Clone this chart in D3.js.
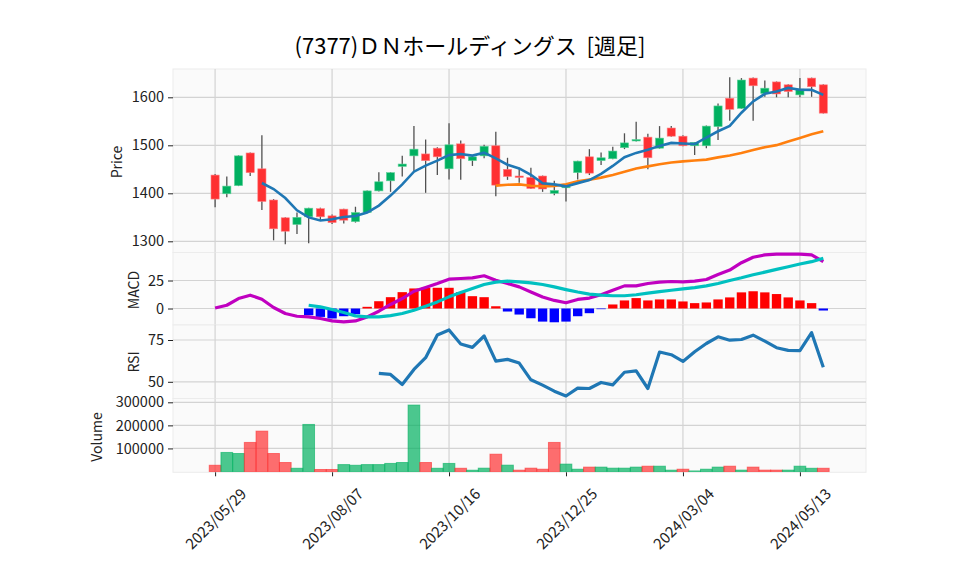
<!DOCTYPE html>
<html><head><meta charset="utf-8">
<script src="https://cdn.jsdelivr.net/npm/d3@7"></script>
<style>body{margin:0;background:#fff}svg{display:block}</style>
</head><body><svg id="c" width="958" height="575"></svg>
<script>
// ---- data (weekly candles, index 0 = 2023/05/29) ----
const opens  = [1438,1399,1416,1484,1451,1386,1349,1335,1351,1368,1353,1367,1341,1360,1405,1426,1456,1478,1482,1494,1451,1503,1468,1478,1499,1450,1436,1433,1436,1400,1412,1443,1476,1468,1472,1495,1509,1517,1494,1536,1519,1499,1499,1539,1598,1577,1640,1608,1632,1626,1605,1640,1626];
const highs  = [1440,1435,1479,1485,1521,1388,1350,1360,1370,1370,1356,1368,1372,1406,1444,1444,1478,1540,1512,1496,1546,1510,1477,1501,1528,1474,1453,1453,1437,1426,1416,1468,1492,1485,1497,1525,1549,1524,1540,1540,1521,1507,1541,1587,1642,1640,1641,1635,1633,1627,1640,1641,1627];
const lows   = [1371,1392,1415,1436,1365,1302,1294,1315,1296,1344,1336,1337,1339,1359,1404,1403,1435,1445,1401,1438,1429,1428,1457,1473,1394,1428,1422,1409,1403,1396,1383,1429,1438,1459,1471,1492,1508,1450,1493,1518,1498,1480,1494,1511,1551,1576,1551,1601,1600,1600,1600,1601,1566];
const closes = [1388,1415,1478,1443,1383,1326,1321,1350,1369,1351,1339,1344,1360,1405,1424,1443,1461,1492,1468,1476,1501,1472,1476,1498,1417,1435,1433,1410,1409,1406,1414,1467,1442,1474,1488,1505,1512,1474,1515,1519,1499,1506,1540,1582,1575,1636,1624,1619,1607,1612,1617,1622,1567];
const volumes = [27000,82600,78000,126000,175000,78000,39000,14000,204000,8700,8700,30000,27000,30000,30000,35000,39000,288000,39000,14000,35000,14000,5600,14500,75000,27500,5800,14500,10000,126000,32000,10000,19000,19000,14500,14500,19000,23000,23000,5800,10000,2500,10000,19000,23000,6000,19000,6000,6000,6000,23000,14000,14000];
const macdLine = [0.5,2.9,8.9,11.9,8.3,0.9,-4.5,-6.9,-7.5,-8.9,-11.1,-12,-11.1,-7.5,-2.4,3.6,8.9,15.4,18.8,22.3,26.2,26.8,27.3,29.2,25.3,22.3,19.3,14.7,10.2,7.2,5.1,8.1,9.3,12.3,16.3,20.2,20.2,22.3,23.5,24.1,23.8,24.4,25.9,30.4,34.3,40.9,45.8,47.9,48.5,48.5,48.5,47.9,41.8];
const signalLine = [null,null,null,null,null,null,null,null,2.9,1.4,-0.9,-3.6,-6.6,-7.5,-7.5,-6.3,-4.5,-1.5,2.1,5.9,10.4,14.3,17.9,21.4,23.5,24.4,23.8,22.9,21.4,19.3,16.9,14.7,12.9,12.0,11.4,11.4,12.3,13.8,15.1,16.3,17.5,18.7,20.2,22.3,25,27.4,30.1,32.5,34.9,37.3,39.7,41.8,44.8];
const macdHist = [null,null,null,null,null,null,null,null,-6.0,-7.5,-8.9,-6.9,-5.1,1.5,6.5,10.1,14.6,17.9,18.5,18.5,18.5,14.6,11,10.1,2,-2.7,-5.4,-8.7,-11.7,-12.3,-11.7,-6.9,-4.2,-0.6,3.6,7.2,9.3,7.2,8.1,8.1,6.3,4.8,5.4,8.1,9.9,14.4,15.4,14.4,12.9,9.9,7.2,4.8,-1.8];
const rsiLine = [null,null,null,null,null,null,null,null,null,null,null,null,null,null,55.0,54.4,48.4,57.4,64.4,78.0,81.0,72.6,70.6,77.4,62.4,63.4,61.2,51.2,48.0,44.4,41.5,46.2,46.0,49.6,48.2,55.7,56.5,46.0,67.8,66.2,62.2,68.0,72.9,76.9,74.9,75.3,77.9,74.3,70.4,68.8,68.6,79.4,58.7];
const xTickIdx = [0,10,20,30,40,50];
const xTickLabels = ["2023/05/29","2023/08/07","2023/10/16","2023/12/25","2024/03/04","2024/05/13"];
const priceTicks = [1300,1400,1500,1600];
const macdTicks = [0,25];
const rsiTicks = [50,75];
const volTicks = [100000,200000,300000];
const titleText = "(7377)ＤＮホールディングス  [週足]";

// ---- layout ----
const FONT = "'Noto Sans CJK JP','Noto Sans',sans-serif";
const svg = d3.select("#c");
const L = 173, R = 866;
const x = d3.scaleLinear().domain([-3.6, 55.65]).range([L, R]);
const step = x(1) - x(0);
const idx = d3.range(closes.length);

const panels = [
  {name:"Price", top:69, bot:252.5, y:d3.scaleLinear().domain([1300,1600]).range([241.3,97.3]), ticks:priceTicks, labX:116, labY:162},
  {name:"MACD", top:252.5, bot:325, y:d3.scaleLinear().domain([0,25]).range([308.5,280.5]), ticks:macdTicks, labX:133, labY:290},
  {name:"RSI", top:325, bot:398.5, y:d3.scaleLinear().domain([50,75]).range([381.8,340]), ticks:rsiTicks, labX:133, labY:362},
  {name:"Volume", top:398.5, bot:472.3, y:d3.scaleLinear().domain([0,300000]).range([471.5,402.3]), ticks:volTicks, labX:96, labY:437}
];

svg.append("text").attr("x",470).attr("y",44).attr("text-anchor","middle")
  .attr("dominant-baseline","central").attr("font-family",FONT).attr("font-size",22)
  .attr("fill","#000").style("white-space","pre").text(titleText);

panels.forEach(p=>{
  const g = svg.append("g");
  g.append("rect").attr("x",L).attr("y",p.top).attr("width",R-L).attr("height",p.bot-p.top)
    .attr("fill","#fafafa").attr("stroke","#ececec").attr("stroke-width",1);
  g.selectAll(".vg").data(xTickIdx).join("line")
    .attr("x1",d=>x(d)).attr("x2",d=>x(d)).attr("y1",p.top).attr("y2",p.bot)
    .attr("stroke","#d3d3d3").attr("stroke-width",1.2);
  g.selectAll(".hg").data(p.ticks).join("line")
    .attr("x1",L).attr("x2",R).attr("y1",d=>p.y(d)).attr("y2",d=>p.y(d))
    .attr("stroke","#d3d3d3").attr("stroke-width",1.2);
  const ax = svg.append("g").attr("transform",`translate(${L},0)`)
    .call(d3.axisLeft(p.y).tickValues(p.ticks).tickSize(5).tickPadding(4).tickFormat(d3.format("d")));
  ax.select(".domain").remove();
  ax.selectAll("text").attr("font-family",FONT).attr("font-size",14.5).attr("fill","#222");
  ax.selectAll("line").attr("stroke","#222");
  svg.append("text").attr("transform",`translate(${p.labX},${p.labY}) rotate(-90)`)
    .attr("text-anchor","middle").attr("dominant-baseline","central")
    .attr("font-family",FONT).attr("font-size",14).attr("fill","#222").text(p.name);
});

const [P, M, RS, V] = panels;
const up = "#00b060", down = "#fe3032";

// volume
const volColor = i => (i===0 ? closes[0]>=opens[0] : closes[i]>=closes[i-1]) ? up : down;
svg.append("g").selectAll("rect").data(idx).join("rect")
  .attr("x",i=>x(i)-step/2).attr("width",step)
  .attr("y",i=>V.y(volumes[i])).attr("height",i=>V.y(0)-V.y(volumes[i]))
  .attr("fill",i=>volColor(i)).attr("fill-opacity",0.7)
  .attr("stroke",i=>volColor(i)).attr("stroke-opacity",0.6).attr("stroke-width",1);

// candles
const cg = svg.append("g");
cg.selectAll("line").data(idx).join("line")
  .attr("x1",i=>x(i)).attr("x2",i=>x(i)).attr("y1",i=>P.y(highs[i])).attr("y2",i=>P.y(lows[i]))
  .attr("stroke","#505050").attr("stroke-width",1.3);
cg.selectAll("rect").data(idx).join("rect")
  .attr("x",i=>x(i)-step*0.35).attr("width",step*0.7)
  .attr("y",i=>P.y(Math.max(opens[i],closes[i])))
  .attr("height",i=>Math.max(1.2,Math.abs(P.y(opens[i])-P.y(closes[i]))))
  .attr("fill",i=>closes[i]>=opens[i]?up:down)
  .attr("stroke",i=>closes[i]>=opens[i]?"#5fd39a":"#ff8084").attr("stroke-width",0.6);

// moving averages
const sma = (arr,n)=>arr.map((d,i)=> i<n-1 ? null : d3.mean(arr.slice(i-n+1,i+1)));
const ma5 = sma(closes,5), ma25 = sma(closes,25);
const lineP = arr => d3.line().defined(i=>arr[i]!=null).x(i=>x(i)).y(i=>P.y(arr[i]))(idx);
svg.append("path").attr("d",lineP(ma25)).attr("fill","none").attr("stroke","#ff7f0e").attr("stroke-width",2.6);
svg.append("path").attr("d",lineP(ma5)).attr("fill","none").attr("stroke","#1f77b4").attr("stroke-width",2.6);

// MACD
svg.append("g").selectAll("rect").data(idx.filter(i=>macdHist[i]!=null)).join("rect")
  .attr("x",i=>x(i)-step*0.4).attr("width",step*0.8)
  .attr("y",i=>M.y(Math.max(0,macdHist[i]))).attr("height",i=>Math.abs(M.y(macdHist[i])-M.y(0)))
  .attr("fill",i=>macdHist[i]>=0?"#ff0000":"#0000ff");
const lineM = arr => d3.line().defined(i=>arr[i]!=null).x(i=>x(i)).y(i=>M.y(arr[i]))(idx);
svg.append("path").attr("d",lineM(macdLine)).attr("fill","none").attr("stroke","#c000c0").attr("stroke-width",3.2).attr("stroke-linejoin","round");
svg.append("path").attr("d",lineM(signalLine)).attr("fill","none").attr("stroke","#00c0c0").attr("stroke-width",3.2).attr("stroke-linejoin","round");

// RSI
svg.append("path").attr("d",d3.line().defined(i=>rsiLine[i]!=null).x(i=>x(i)).y(i=>RS.y(rsiLine[i]))(idx))
  .attr("fill","none").attr("stroke","#1f77b4").attr("stroke-width",3.2).attr("stroke-linejoin","round");

// x axis
const xa = svg.append("g").attr("transform",`translate(0,${V.bot})`)
  .call(d3.axisBottom(x).tickValues(xTickIdx).tickSize(4).tickFormat(""));
xa.select(".domain").remove();
xa.selectAll("line").attr("stroke","#222");
svg.append("g").selectAll("text").data(xTickIdx).join("text")
  .attr("transform",(d)=>`translate(${x(d)},518) rotate(-45)`)
  .attr("text-anchor","middle").attr("dominant-baseline","central")
  .attr("font-family",FONT).attr("font-size",15).attr("fill","#222")
  .text((d,i)=>xTickLabels[i]);
</script></body></html>
